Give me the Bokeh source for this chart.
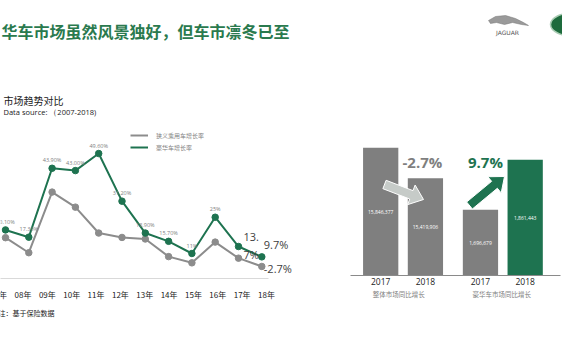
import numpy as np
from bokeh.plotting import figure
from bokeh.models import Range1d, Legend, LegendItem
from bokeh.core.properties import value
from bokeh.embed import file_html
from bokeh.resources import INLINE

# ---------------- data ----------------
title_text = "华车市场虽然风景独好，但车市凛冬已至"
chart_title = "市场趋势对比"
chart_subtitle = "Data source:    （2007-2018)"
note_text = "注：基于保险数据"
years = ["07年", "08年", "09年", "10年", "11年", "12年", "13年", "14年", "15年", "16年", "17年", "18年"]
luxury_growth = [20.1, 17.3, 43.9, 43.0, 49.6, 31.2, 18.9, 15.7, 11.0, 25.0, 13.7, 9.7]
luxury_labels = ["20.10%", "17.30%", "43.90%", "43.00%", "49.60%", "31.20%", "18.90%", "15.70%", "11%", "25%", "13.\n7%", "9.7%"]
passenger_growth = [17.1, 11.3, 34.7, 28.9, 18.9, 17.2, 16.6, 9.8, 7.4, 15.4, 9.2, 6.0]
passenger_last_label = "-2.7%"
series_names = ["狭义乘用车增长率", "豪华车增长率"]

bar_years = ["2017", "2018"]
total_market = [15846377, 15419906]
luxury_market = [1696679, 1861443]
total_change = "-2.7%"
luxury_change = "9.7%"
group_names = ["整体市场同比增长", "豪华车市场同比增长"]

# ---------------- layout helpers ----------------
W, H = 562, 352
L, T = 0, 0
GREEN = "#1e7350"
GRAY_LINE = "#8c8c8c"
BAR_GRAY = "#7f7f7f"
CJK_NAME = "Noto Sans CJK SC"
CJK = value(CJK_NAME)
LAT = value("Open Sans")


def hrange(v0, px0, v1, px1):
    k = (px1 - px0) / (v1 - v0)
    start = v0 - (px0 - L) / k
    return Range1d(start, start + W / k)


def vrange(v0, py0, v1, py1):
    k = (py0 - py1) / (v1 - v0)
    start = v0 - (T + H - py0) / k
    return Range1d(start, start + H / k)


def arrow_poly(x0, y0, x1, y1, bw, hw, hl):
    p0 = np.array([x0, y0], float)
    p1 = np.array([x1, y1], float)
    d = p1 - p0
    u = d / np.linalg.norm(d)
    n = np.array([-u[1], u[0]])
    base = p1 - u * hl
    pts = [p0 + n * bw / 2, base + n * bw / 2, base + n * hw / 2, p1,
           base - n * hw / 2, base - n * bw / 2, p0 - n * bw / 2]
    return [q[0] for q in pts], [q[1] for q in pts]


p = figure(width=W, height=H, x_range=Range1d(L, L + W), y_range=Range1d(T + H, T),
           output_backend="svg", toolbar_location=None,
           x_axis_location=None, y_axis_location=None, min_border=0)
p.grid.visible = False
p.outline_line_color = None
p.background_fill_color = "white"
p.border_fill_color = "white"

idx = list(range(len(years)))
p.extra_x_ranges = {
    "lx": hrange(0, 5, 10, 238),
    "lxt": hrange(1, 22.5, 11, 266),
    "bx": hrange(0, 380.2, 1, 423.2),
}
total_axis_start = 14060000
luxury_axis_start = 1480000
p.extra_y_ranges = {
    "ly": vrange(0, 281.5, 49.6, 153),
    "by0": vrange(total_axis_start, 275, total_market[0], 147.3),
    "by1": vrange(luxury_axis_start, 275, luxury_market[1], 159.3),
}

# ---------------- header ----------------
p.text(x=[1], y=[30], text=[title_text], text_font=CJK, text_font_size="16px",
       text_font_style="bold", text_color="#2a7a4e", text_baseline="middle")

# Jaguar logo (simplified)
cat_x = [488, 495, 505, 515, 523, 528, 521, 512, 504, 496, 490]
cat_y = [20, 16, 15, 18, 22, 25, 24, 22, 24, 22, 23]
p.patch(cat_x, cat_y, fill_color="#9a9a9a", line_color="#777777", line_width=0.5)
p.text(x=[507], y=[32], text=["JAGUAR"], text_font=value("DejaVu Sans"), text_font_size="6px",
       text_color="#555555", text_align="center", text_baseline="middle")
# Land Rover logo (simplified oval badge)
p.ellipse(x=[574], y=[24], width=48, height=24, fill_color="#1d6b3c",
          line_color="#a9ccb3", line_width=1.5)

# ---------------- line chart ----------------
p.text(x=[3], y=[100], text=[chart_title], text_font=CJK, text_font_size="10px",
       text_color="#222222", text_baseline="middle")
p.text(x=[3], y=[111], text=[chart_subtitle], text_font=LAT, text_font_size="7.5px",
       text_color="#222222", text_baseline="middle")

p.segment(x0=[-5], y0=[278], x1=[268], y1=[278], line_color="#d9d9d9", line_width=1)

gl = p.line(idx, passenger_growth, x_range_name="lx", y_range_name="ly",
            line_color=GRAY_LINE, line_width=2)
p.scatter(idx, passenger_growth, x_range_name="lx", y_range_name="ly", size=6.5,
          fill_color=GRAY_LINE, line_color=GRAY_LINE)
ll = p.line(idx, luxury_growth, x_range_name="lx", y_range_name="ly",
            line_color=GREEN, line_width=2)
p.scatter(idx, luxury_growth, x_range_name="lx", y_range_name="ly", size=6.5,
          fill_color=GREEN, line_color=GREEN)

n_small = 10
p.text(x=idx[:n_small], y=luxury_growth[:n_small], text=luxury_labels[:n_small],
       x_range_name="lx", y_range_name="ly", text_font=LAT, text_font_size="5.5px",
       text_color="#808080", text_align="center", text_baseline="bottom", y_offset=-4)
p.text(x=[idx[10]], y=[luxury_growth[10]], text=[luxury_labels[10]],
       x_range_name="lx", y_range_name="ly", text_font=LAT, text_font_size="11px",
       text_color="#404040", text_align="left", text_baseline="middle",
       x_offset=5, y_offset=-1)
p.text(x=[idx[11]], y=[luxury_growth[11]], text=[luxury_labels[11]],
       x_range_name="lx", y_range_name="ly", text_font=LAT, text_font_size="11px",
       text_color="#404040", text_align="left", text_baseline="middle",
       x_offset=2, y_offset=-12)
p.text(x=[idx[-1]], y=[passenger_growth[-1]], text=[passenger_last_label],
       x_range_name="lx", y_range_name="ly", text_font=LAT, text_font_size="11px",
       text_color="#404040", text_align="left", text_baseline="middle",
       x_offset=2, y_offset=2)

label_y = [0.0] * len(years)
p.text(x=idx, y=label_y, text=years, x_range_name="lxt", y_range_name="ly",
       text_font=CJK, text_font_size="8px", text_color="#222222",
       text_align="center", text_baseline="middle", y_offset=12.5)

legend = Legend(items=[LegendItem(label=series_names[0], renderers=[gl]),
                       LegendItem(label=series_names[1], renderers=[ll])],
                location=(130, H - 152), orientation="vertical", padding=0, margin=0,
                spacing=2, label_height=10, glyph_height=10, glyph_width=18,
                label_standoff=8, label_text_font=CJK_NAME, label_text_font_size="6px",
                label_text_color="#7f7f7f", border_line_color=None,
                background_fill_alpha=0)
p.add_layout(legend)

p.text(x=[-2], y=[312], text=[note_text], text_font=CJK, text_font_size="7px",
       text_color="#222222", text_baseline="middle")

# ---------------- bar chart ----------------
bar_w = 0.82
pos0 = [0.0, 1.04]
pos1 = [2.32, 3.36]
p.vbar(x=pos0, top=total_market, bottom=total_axis_start, width=bar_w,
       x_range_name="bx", y_range_name="by0", fill_color=BAR_GRAY, line_color=None)
p.vbar(x=pos1, top=luxury_market, bottom=luxury_axis_start, width=bar_w,
       x_range_name="bx", y_range_name="by1", fill_color=[BAR_GRAY, GREEN], line_color=None)

p.segment(x0=[350], y0=[275], x1=[560], y1=[275], line_color="#8a8a8a", line_width=1)

mid0 = [(v + total_axis_start) / 2 for v in total_market]
mid1 = [(v + luxury_axis_start) / 2 for v in luxury_market]
p.text(x=pos0, y=mid0, text=[f"{v:,}" for v in total_market], x_range_name="bx",
       y_range_name="by0", text_font=LAT, text_font_size="5px", text_color="white",
       text_align="center", text_baseline="middle")
p.text(x=pos1, y=mid1, text=[f"{v:,}" for v in luxury_market], x_range_name="bx",
       y_range_name="by1", text_font=LAT, text_font_size="5px", text_color="white",
       text_align="center", text_baseline="middle")

p.text(x=pos0, y=[total_axis_start] * 2, text=bar_years, x_range_name="bx", y_range_name="by0",
       text_font=LAT, text_font_size="8.5px", text_color="#222222",
       text_align="center", text_baseline="top", y_offset=2)
p.text(x=pos1, y=[luxury_axis_start] * 2, text=bar_years, x_range_name="bx", y_range_name="by1",
       text_font=LAT, text_font_size="8.5px", text_color="#222222",
       text_align="center", text_baseline="top", y_offset=2)
p.text(x=[pos0[0], pos1[0]], y=[total_axis_start, total_axis_start], text=group_names,
       x_range_name="bx", y_range_name="by0", text_font=CJK, text_font_size="6.5px",
       text_color="#808080", text_align="left", text_baseline="middle",
       x_offset=-8, y_offset=18)

# change arrows
ax, ay = arrow_poly(384, 184, 423, 199, 9, 21, 13)
p.patch(ax, ay, fill_color="#c6cbc8", line_color="white", line_width=1)
bx_, by_ = arrow_poly(469, 205, 504, 176, 9, 21, 13)
p.patch(bx_, by_, fill_color=GREEN, line_color="white", line_width=1)

p.text(x=[pos0[1]], y=[total_market[1]], text=[total_change], x_range_name="bx",
       y_range_name="by0", text_font=LAT, text_font_size="15px", text_font_style="bold",
       text_color=BAR_GRAY, text_align="center", text_baseline="middle", x_offset=-3, y_offset=-16)
p.text(x=[pos1[0]], y=[luxury_market[1]], text=[luxury_change], x_range_name="bx",
       y_range_name="by1", text_font=LAT, text_font_size="15px", text_font_style="bold",
       text_color=GREEN, text_align="center", text_baseline="middle", x_offset=5, y_offset=2)

open("out.html", "w").write(file_html(p, INLINE))
